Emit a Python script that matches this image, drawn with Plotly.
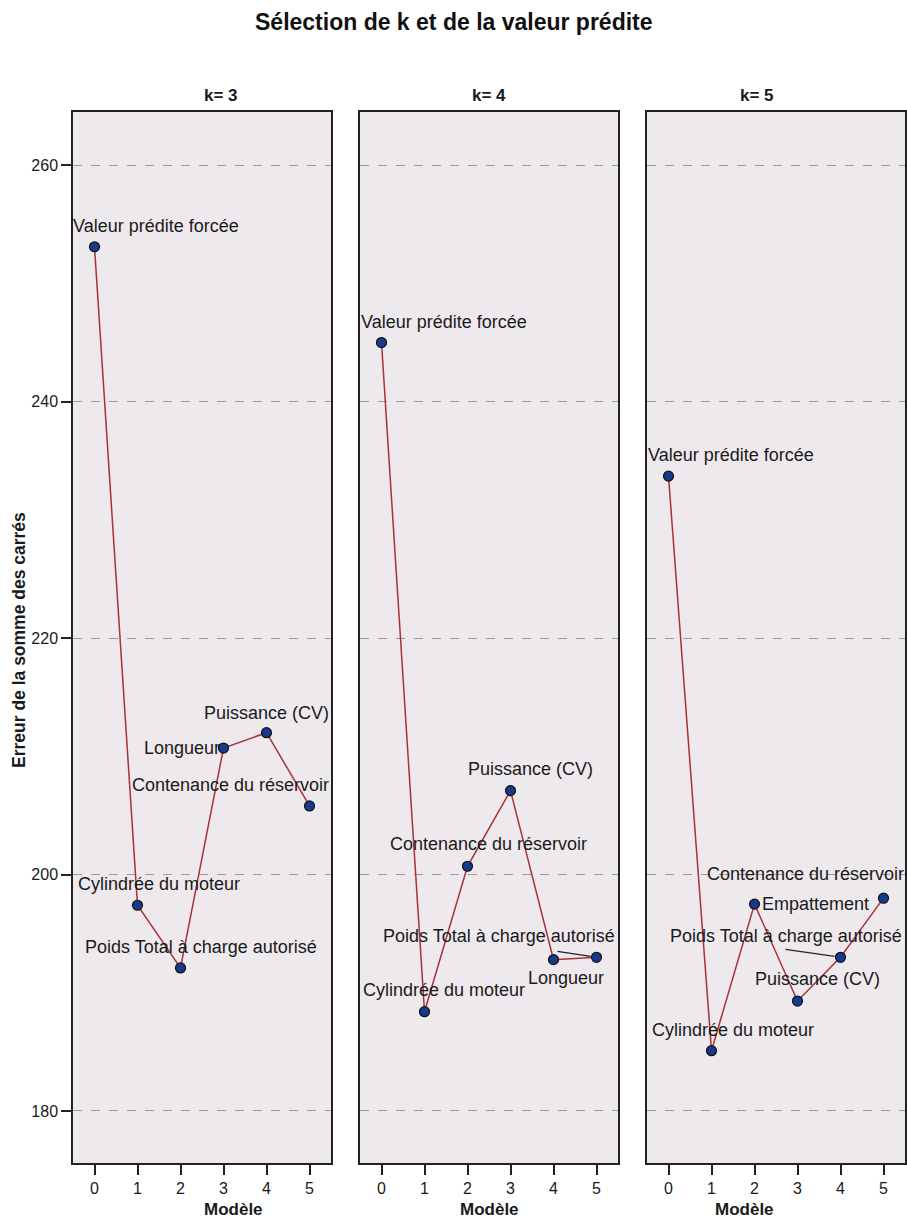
import plotly.graph_objects as go

# ---- data ----
panels = ["k= 3", "k= 4", "k= 5"]
models = [0, 1, 2, 3, 4, 5]
sse_k3 = [253.1, 197.4, 192.1, 210.7, 212.0, 205.8]
sse_k4 = [245.0, 188.4, 200.7, 207.1, 192.8, 193.0]
sse_k5 = [233.7, 185.1, 197.5, 189.3, 193.0, 198.0]
labels_k3 = ["Valeur prédite forcée", "Cylindrée du moteur", "Poids Total à charge autorisé",
             "Longueur", "Puissance (CV)", "Contenance du réservoir"]
labels_k4 = ["Valeur prédite forcée", "Cylindrée du moteur", "Contenance du réservoir",
             "Puissance (CV)", "Longueur", "Poids Total à charge autorisé"]
labels_k5 = ["Valeur prédite forcée", "Cylindrée du moteur", "Empattement",
             "Puissance (CV)", "Poids Total à charge autorisé", "Contenance du réservoir"]
y_ticks = [180, 200, 220, 240, 260]

# ---- label placement (pixel offsets: xshift, yshift[, leader x0, y0, x1, y1]) ----
offsets = [
    [(61, 21), (21, 21), (20, 21), (-42, 0), (0, 20), (-79, 21)],
    [(62, 21), (19, 22), (21, 22), (20, 22), (12, -18), (-98, 21, -39, 6, -6, 1)],
    [(62, 21), (21, 21), (61, 0), (20, 22), (-55, 21, -55, 8, -6, 1), (-78, 24)],
]

W, H = 907, 1221
FONT = "Liberation Sans, Arial, sans-serif"
TXT = "#1a1a1a"
BG = "#EEE9ED"

xdom = [(73 / W, 331 / W), (360 / W, 618 / W), (647 / W, 905 / W)]
ydom = (1 - 1163 / H, 1 - 112 / H)

fig = go.Figure()
series = [sse_k3, sse_k4, sse_k5]
labels = [labels_k3, labels_k4, labels_k5]

annotations = []
shapes = []
for i, (vals, labs) in enumerate(zip(series, labels)):
    xa = "x" if i == 0 else f"x{i+1}"
    ya = "y" if i == 0 else f"y{i+1}"
    fig.add_trace(go.Scatter(
        x=models, y=vals, mode="lines+markers", xaxis=xa, yaxis=ya,
        line=dict(color="#A83236", width=1.5),
        marker=dict(size=10, color="#173A8C", line=dict(color="#111111", width=1.2)),
        showlegend=False, hoverinfo="skip", cliponaxis=False,
    ))
    for j, (xv, yv, lab) in enumerate(zip(models, vals, labs)):
        off = offsets[i][j]
        annotations.append(dict(
            x=xv, y=yv, xref=xa, yref=ya, text=lab, showarrow=False,
            xshift=off[0], yshift=off[1], font=dict(family=FONT, size=18, color=TXT)))
        if len(off) > 2:
            shapes.append(dict(
                type="line", xref=xa, yref=ya, xsizemode="pixel", ysizemode="pixel",
                xanchor=xv, yanchor=yv, x0=off[2], y0=off[3], x1=off[4], y1=off[5],
                line=dict(color="#222222", width=1.2), layer="below"))
    # panel titles
    annotations.append(dict(
        x=(xdom[i][0] + xdom[i][1]) / 2, y=1 - 96 / H, xref="paper", yref="paper",
        text=f"<b>{panels[i]}</b>", showarrow=False, yanchor="middle",
        font=dict(family=FONT, size=17, color=TXT)))
    # x axis titles
    annotations.append(dict(
        x=(xdom[i][0] + xdom[i][1]) / 2, y=1 - 1209 / H, xref="paper", yref="paper",
        text="<b>Modèle</b>", showarrow=False, yanchor="middle",
        font=dict(family=FONT, size=17, color=TXT)))

annotations.append(dict(
    x=0.5, y=1 - 22 / H, xref="paper", yref="paper",
    text="<b>Sélection de k et de la valeur prédite</b>", showarrow=False, yanchor="middle",
    font=dict(family=FONT, size=23, color="#111111")))
annotations.append(dict(
    x=19 / W, y=1 - 640 / H, xref="paper", yref="paper", textangle=-90,
    text="<b>Erreur de la somme des carrés</b>", showarrow=False,
    xanchor="center", yanchor="middle",
    font=dict(family=FONT, size=17.5, color=TXT)))

layout = dict(
    width=W, height=H, margin=dict(l=0, r=0, t=0, b=0),
    paper_bgcolor="white", plot_bgcolor=BG,
    annotations=annotations, shapes=shapes,
)
for i in range(3):
    xk = "xaxis" if i == 0 else f"xaxis{i+1}"
    yk = "yaxis" if i == 0 else f"yaxis{i+1}"
    ya = "y" if i == 0 else f"y{i+1}"
    xa = "x" if i == 0 else f"x{i+1}"
    layout[xk] = dict(
        domain=list(xdom[i]), anchor=ya, range=[-0.5, 5.5],
        tickvals=models, ticktext=[str(m) for m in models],
        ticks="outside", ticklen=10, tickcolor="#222222", tickwidth=1.5,
        showgrid=False, zeroline=False,
        showline=True, mirror=True, linecolor="#222222", linewidth=1.5,
        tickfont=dict(family=FONT, size=16, color=TXT), fixedrange=True,
    )
    layout[yk] = dict(
        domain=list(ydom), anchor=xa, range=[175.6, 264.5],
        tickvals=y_ticks, ticktext=[str(v) for v in y_ticks] if i == 0 else None,
        showticklabels=(i == 0),
        ticks="outside" if i == 0 else "", ticklen=10, tickcolor="#222222", tickwidth=1.5,
        showgrid=True, gridcolor="#9a9a9a", griddash="dash", gridwidth=1,
        zeroline=False,
        showline=True, mirror=True, linecolor="#222222", linewidth=1.5,
        tickfont=dict(family=FONT, size=16, color=TXT), fixedrange=True,
    )

fig.update_layout(**layout)
fig.write_html("out.html", config={"displayModeBar": False},
               post_script="document.body.style.margin='0';document.body.style.overflow='hidden';")
